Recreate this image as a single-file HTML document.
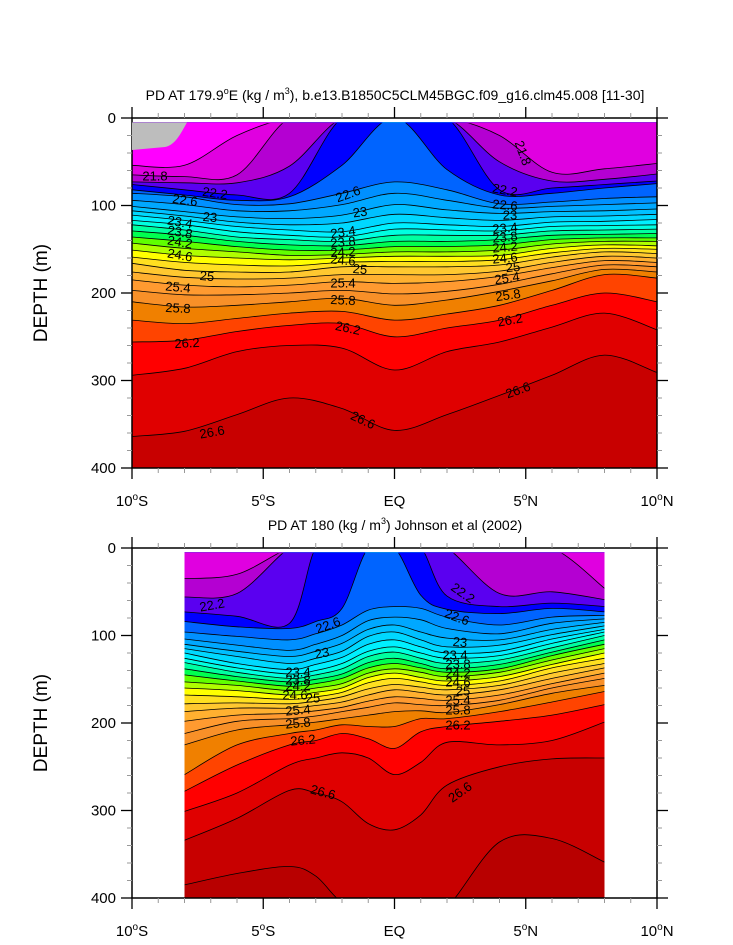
<!DOCTYPE html>
<html><head><meta charset="utf-8"><title>PD sections</title>
<style>
html,body{margin:0;padding:0;background:#fff;}
svg{display:block;font-family:"Liberation Sans",Arial,sans-serif;}
.cl{font-size:13px;fill:#000;}
.tk{font-size:15px;fill:#000;}
.ttl{font-size:14px;fill:#000;}
</style></head>
<body>
<svg id="chart" width="733" height="945" viewBox="0 0 733 945" xmlns="http://www.w3.org/2000/svg">
<defs>
<clipPath id="clipTop"><rect x="132" y="122.4" width="525" height="345.6"/></clipPath>
<clipPath id="clipTopL"><rect x="132" y="123.2" width="525" height="344.8"/></clipPath>
<clipPath id="clipBot"><rect x="184.5" y="552.4" width="420" height="345.6"/></clipPath>
<clipPath id="clipBotL"><rect x="184.5" y="553.2" width="420" height="344.8"/></clipPath>
</defs>
<g id="topPanel"></g>
<g id="botPanel"></g>
<text class="ttl" x="395" y="100" text-anchor="middle">PD AT 179.9<tspan font-size="9" dy="-6">o</tspan><tspan dy="6">E (kg / m</tspan><tspan font-size="9" dy="-6">3</tspan><tspan dy="6">), b.e13.B1850C5CLM45BGC.f09_g16.clm45.008 [11-30]</tspan></text>
<text class="ttl" x="395" y="530" text-anchor="middle">PD AT 180 (kg / m<tspan font-size="9" dy="-6">3</tspan><tspan dy="6">) Johnson et al (2002)</tspan></text>
<text x="0" y="0" font-size="19" transform="translate(47,293) rotate(-90)" text-anchor="middle">DEPTH (m)</text>
<text x="0" y="0" font-size="19" transform="translate(47,723) rotate(-90)" text-anchor="middle">DEPTH (m)</text>
</svg>
<script>
const levels=[21.6,21.8,22.0,22.2,22.4,22.6,22.8,23.0,23.2,23.4,23.6,23.8,24.0,24.2,24.4,24.6,24.8,25.0,25.2,25.4,25.6,25.8,26.0,26.2,26.4,26.6,26.8];
const bandColors=["#ff00ff","#e000e0","#b400d2","#5a00f0","#0000ff","#0064ff","#0090ff","#00a8ff","#00c0ff","#00d8ff","#00f0ff","#00ffe0","#00ffa0","#00ff50","#60ff00","#b0ff00","#ffff00","#ffe020","#ffc830","#ffb030","#ff9a30","#f89028","#f08000","#ff4400","#ff0000","#e00000","#c80000","#b80000"];
const topLats=[-10,-8,-6,-4,-2,0,2,4,6,8,10];
const topDepths=[
[54,54,20,0,0,0,0,0,0,0,0],
[65,67,65,0,0,0,0,20,62,58,52],
[73,74,74,55,0,0,0,50,72,70,64],
[76,82,88,86,0,0,0,82,80,76,72],
[82,88,94,90,54,0,59,88,86,80,75],
[86,90,99,98,86,73,82,98,96,92,90],
[94,99,106,106,99,86,94,103,101,99,97],
[101,107,113,115,111,99,105,109,107,106,104],
[106,112,119,122,120,110,114,117,113,112,110],
[111,117,124,128,130,120,122,124,119,118,116],
[117,122,130,134,136,127,128,129,124,123,122],
[122,128,136,139,141,134,134,134,129,128,127],
[129,134,141,145,146,141,141,139,134,133,132],
[136,141,147,151,151,147,147,145,139,137,137],
[143,149,153,157,156,153,153,151,144,141,141],
[151,157,160,162,160,158,158,157,149,145,146],
[159,165,168,169,165,164,164,162,154,149,150],
[166,174,176,176,170,170,170,168,159,153,155],
[176,182,184,183,179,179,179,175,165,158,160],
[185,191,193,191,187,189,187,181,171,163,165],
[197,202,202,200,197,201,198,190,178,168,170],
[210,216,214,210,206,214,208,198,186,173,176],
[231,235,229,223,221,231,224,214,197,179,183],
[256,254,244,237,235,250,240,231,214,200,210],
[294,286,267,260,263,288,267,256,239,223,242],
[364,358,339,320,332,357,339,317,294,271,291],
[430,430,430,430,430,430,430,430,430,430,430]];
const botLats=[-8,-6,-4,-3,-2,-1,0,1,2,4,6,8];
const botDepths=[
[0,0,0,0,0,0,0,0,0,0,0,0],
[35,30,0,0,0,0,0,0,0,0,0,46],
[56,52,0,0,0,0,0,0,0,52,50,59],
[73,78,86,0,0,0,0,0,55,67,63,67],
[84,90,92,84,69,0,0,54,70,75,69,73],
[96,101,105,98,88,71,67,69,79,88,79,77],
[104,111,117,110,100,83,79,82,92,98,86,81],
[110,118,124,118,109,93,88,96,103,105,93,85],
[115,124,132,126,118,101,96,105,113,111,99,89],
[120,132,139,133,125,110,105,113,120,118,104,93],
[126,137,144,140,132,118,113,120,126,123,109,96],
[131,142,149,145,138,124,119,126,132,128,114,100],
[138,147,153,150,144,131,126,132,138,133,119,105],
[145,152,158,155,149,137,132,137,142,138,123,110],
[153,157,163,160,155,143,138,142,147,142,128,115],
[160,163,168,165,160,148,143,148,152,147,133,120],
[168,170,173,170,165,154,149,153,157,152,137,126],
[178,177,178,175,170,161,156,159,162,157,143,132],
[187,183,183,180,176,168,162,165,168,162,149,137],
[198,191,189,186,182,175,170,172,174,168,155,143],
[212,198,195,192,187,182,177,179,180,174,160,149],
[225,208,202,199,195,191,187,186,188,179,166,157],
[259,225,212,208,202,204,204,195,195,187,176,164],
[278,248,225,220,212,218,229,210,204,198,191,179],
[301,280,248,240,234,240,259,245,222,225,220,199],
[334,309,277,280,290,315,322,305,271,250,241,240],
[385,372,364,375,405,410,410,410,410,336,332,359]];
const yTicks=[0,100,200,300,400];
const xTickVals=[-10,-5,0,5,10];
const xTickNum=["10","5","EQ","5","10"];
const xTickHem=["S","S","","N","N"];
const topLabels=[
["21.8",155,176,0],["22.2",215,193,8],["22.6",185,200,8],["23",210,217,5],["23.4",180,222,10],["23.8",180,232,10],["24.2",180,242,10],["24.6",180,255,10],["25",207,276,5],["25.4",178,287,5],["25.8",178,308,3],["26.2",187,343,-3],["26.6",212,432,-10],
["22.6",348,194,-20],["23",360,212,-8],["23.4",343,232,-8],["23.8",343,242,-5],["24.2",343,252,-3],["24.6",343,260,5],["25",360,269,5],["25.4",343,283,0],["25.8",343,300,3],["26.2",348,328,12],["26.6",363,420,25],
["21.8",523,153,70],["22.2",505,190,10],["22.6",505,205,5],["23",510,215,0],["23.4",505,228,-5],["23.8",505,237,-5],["24.2",505,247,-5],["24.6",505,258,-5],["25",513,267,-5],["25.4",507,278,-8],["25.8",508,295,-8],["26.2",510,320,-10],["26.6",518,390,-20]];
const botLabels=[
["22.2",212,605,-10],["22.6",328,625,-20],["23",322,653,-10],["23.4",298,672,0],["23.8",298,680,0],["24.2",298,686,0],["24.6",295,695,0],["25",313,698,0],["25.4",298,710,-5],["25.8",298,723,-5],["26.2",303,740,-5],["26.6",323,792,15],
["22.2",463,593,35],["22.6",457,617,20],["23",460,642,5],["23.4",455,655,0],["23.8",458,664,0],["24.2",458,673,0],["24.6",458,682,0],["25",463,691,0],["25.4",458,700,0],["25.8",458,710,0],["26.2",458,725,0],["26.6",460,792,-35]];

const NS="http://www.w3.org/2000/svg";
const X0=132,X1=657,PX=0.875;
function xS(lat){return X0+(lat+10)/20*(X1-X0);}
function mk(tag,attrs,parent){const e=document.createElementNS(NS,tag);for(const k in attrs)e.setAttribute(k,attrs[k]);parent.appendChild(e);return e;}
function curve(pts){
  let d="M"+pts[0][0].toFixed(1)+","+pts[0][1].toFixed(1);
  for(let i=0;i<pts.length-1;i++){
    const p0=pts[Math.max(0,i-1)],p1=pts[i],p2=pts[i+1],p3=pts[Math.min(pts.length-1,i+2)];
    const c1=[p1[0]+(p2[0]-p0[0])/6,p1[1]+(p2[1]-p0[1])/6];
    const c2=[p2[0]-(p3[0]-p1[0])/6,p2[1]-(p3[1]-p1[1])/6];
    d+=" C"+c1[0].toFixed(1)+","+c1[1].toFixed(1)+" "+c2[0].toFixed(1)+","+c2[1].toFixed(1)+" "+p2[0].toFixed(1)+","+p2[1].toFixed(1);
  }
  return d;
}
function drawPanel(g,lats,depths,y0,clipF,clipL,labels){
  const yS=d=>y0+d*PX;
  const xa=xS(lats[0]),xb=xS(lats[lats.length-1]);
  const fills=mk("g",{"clip-path":"url(#"+clipF+")"},g);
  const base=mk("rect",{x:xa,y:y0,width:xb-xa,height:400*PX,fill:bandColors[bandColors.length-1]},fills);
  
  
  for(let k=levels.length-1;k>=0;k--){
    const pts=lats.map((la,i)=>[xS(la),yS(depths[k][i])]);
    const p=mk("path",{d:curve(pts)+" L"+xb+","+(y0-10)+" L"+xa+","+(y0-10)+" Z",fill:bandColors[k],stroke:"none"},fills);
    
    
  }
  const lines=mk("g",{"clip-path":"url(#"+clipL+")"},g);
  for(let k=0;k<levels.length;k++){
    const pts=lats.map((la,i)=>[xS(la),yS(depths[k][i])]);
    const l=mk("path",{d:curve(pts),fill:"none",stroke:"#000","stroke-width":0.8},lines);
    
    
  }
  for(const lb of labels){
    const t=mk("text",{class:"cl",x:lb[1],y:lb[2],"text-anchor":"middle","dominant-baseline":"central",transform:"rotate("+lb[3]+" "+lb[1]+" "+lb[2]+")"},g);
    t.textContent=lb[0];
    
    
  }
  const ax=mk("g",{},g);
  const fr=mk("rect",{x:X0,y:y0,width:X1-X0,height:400*PX,fill:"none",stroke:"#000","stroke-width":1.5},ax);
  
  
  for(let d=0;d<=400;d+=20){
    const y=yS(d),maj=d%100===0,len=maj?11:5,col=maj?"#000":"#999";
    mk("line",{x1:X0-len,y1:y,x2:X0,y2:y,stroke:col,"stroke-width":maj?1.3:1},ax);
    mk("line",{x1:X1,y1:y,x2:X1+len,y2:y,stroke:col,"stroke-width":maj?1.3:1},ax);
  }
  for(let la=-10;la<=10;la+=1){
    const x=xS(la),maj=la%5===0,len=maj?11:5,col=maj?"#000":"#999";
    mk("line",{x1:x,y1:y0+400*PX,x2:x,y2:y0+400*PX+len,stroke:col,"stroke-width":maj?1.3:1},ax);
    mk("line",{x1:x,y1:y0-len,x2:x,y2:y0,stroke:col,"stroke-width":maj?1.3:1},ax);
  }
  yTicks.forEach(v=>{
    const t=mk("text",{class:"tk",x:X0-16,y:yS(v)+5,"text-anchor":"end"},ax);
    t.textContent=v;
    
    
  });
  xTickVals.forEach((v,i)=>{
    const t=mk("text",{class:"tk",x:xS(v),y:y0+400*PX+38,"text-anchor":"middle"},ax);
    
    
    if(xTickHem[i]===""){t.textContent=xTickNum[i];}
    else{
      t.appendChild(document.createTextNode(xTickNum[i]));
      const s=mk("tspan",{"font-size":"10",dy:"-6"},t);s.textContent="o";
      const h=mk("tspan",{dy:"6"},t);h.textContent=xTickHem[i];
    }
  });
}
const gTop=document.getElementById("topPanel");
drawPanel(gTop,topLats,topDepths,118,"clipTop","clipTopL",topLabels);
const miss=mk("path",{d:"M132,122.4 L187,122.4 C180,135 175,145 165,147 L132,150 Z",fill:"#bdbdbd"},gTop);


drawPanel(document.getElementById("botPanel"),botLats,botDepths,548,"clipBot","clipBotL",botLabels);
</script>
</body></html>
